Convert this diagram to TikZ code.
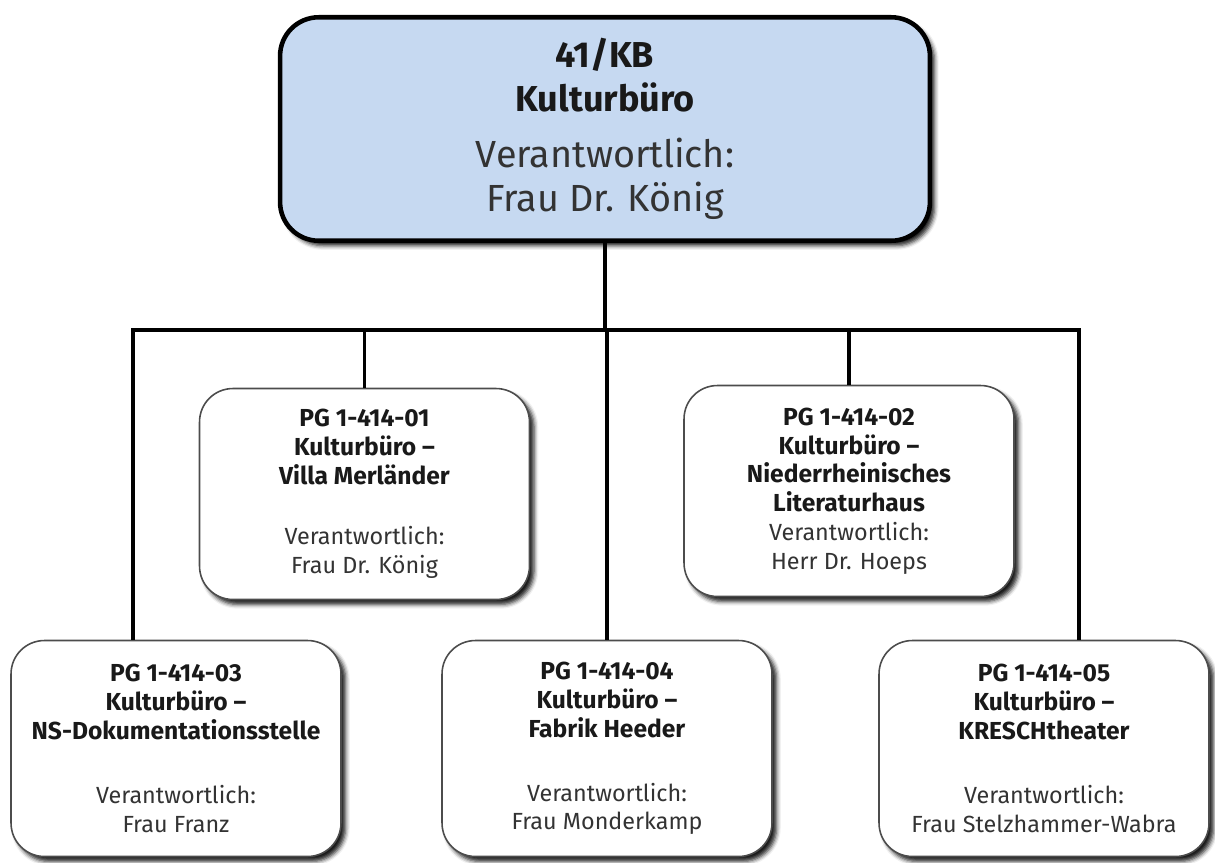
\documentclass[tikz,border=0pt]{standalone}
\usepackage{fontspec}
\setmainfont{Fira Sans}
\usetikzlibrary{shadows.blur}
\definecolor{kbblue}{HTML}{C6D9F1}
\definecolor{txtgray}{HTML}{333333}
\newcommand\headbf{\bfseries\color{black!90}\fontsize{20.5}{25}\selectfont}
\newcommand\unitbf[1]{{\bfseries\color{black!90}\fontsize{14}{16.4}\selectfont #1}}

\begin{document}
\begin{tikzpicture}[x=0.02cm, y=-0.02cm,
  every node/.style={text=txtgray, align=center},
  boxshadow/.style={blur shadow={shadow xshift=2.6pt, shadow yshift=-2.8pt, shadow blur radius=2.4pt, shadow opacity=90}},
  head/.style={draw=black, line width=2.6pt, fill=kbblue, rounded corners=22pt, minimum width=13.0cm, minimum height=4.47cm, boxshadow, font=\fontsize{21.5}{25}\selectfont},
  unit/.style={draw=black!70, line width=0.9pt, fill=white, rounded corners=19pt, minimum width=6.6cm, minimum height=4.22cm, boxshadow, font=\fontsize{13.3}{16.4}\selectfont},
  conn/.style={line width=2.1pt, black}]
\useasboundingbox (0,0) rectangle (1215,863);
\node[head] (kb) at (605,129) {{\headbf 41/KB}\\{\headbf Kulturbüro}\\[7pt]Verantwortlich:\\Frau Dr. König};
\node[unit] (villa) at (364.5,494) {\unitbf{PG 1-414-01}\\\unitbf{Kulturbüro –}\\\unitbf{Villa Merländer}\\[18pt]Verantwortlich:\\Frau Dr. König};
\node[unit] (lit) at (849,491) {\unitbf{PG 1-414-02}\\\unitbf{Kulturbüro –}\\\unitbf{Niederrheinisches}\\\unitbf{Literaturhaus}\\Verantwortlich:\\Herr Dr. Hoeps};
\node[unit,minimum height=4.32cm] (ns) at (176,748.5) {\unitbf{PG 1-414-03}\\\unitbf{Kulturbüro –}\\\unitbf{NS-Dokumentationsstelle}\\[20pt]Verantwortlich:\\Frau Franz};
\node[unit,minimum height=4.32cm] (heeder) at (607,748.5) {\unitbf{PG 1-414-04}\\\unitbf{Kulturbüro –}\\\unitbf{Fabrik Heeder}\\[20pt]Verantwortlich:\\Frau Monderkamp};
\node[unit,minimum height=4.32cm] (kresch) at (1044,748.5) {\unitbf{PG 1-414-05}\\\unitbf{Kulturbüro –}\\\unitbf{KRESCHtheater}\\[20pt]Verantwortlich:\\Frau Stelzhammer-Wabra};
\coordinate (barL) at (133,330);
\coordinate (barR) at (1079,330);
\draw[conn] (kb.south) -- (kb.south |- barL);
\draw[conn] (barL |- ns.north) -- (barL) -- (barR) -- (barR |- kresch.north);
\draw[conn] (villa.north) -- (villa.north |- barL);
\draw[conn] (lit.north) -- (lit.north |- barL);
\draw[conn] (heeder.north) -- (heeder.north |- barL);
\end{tikzpicture}
\end{document}
